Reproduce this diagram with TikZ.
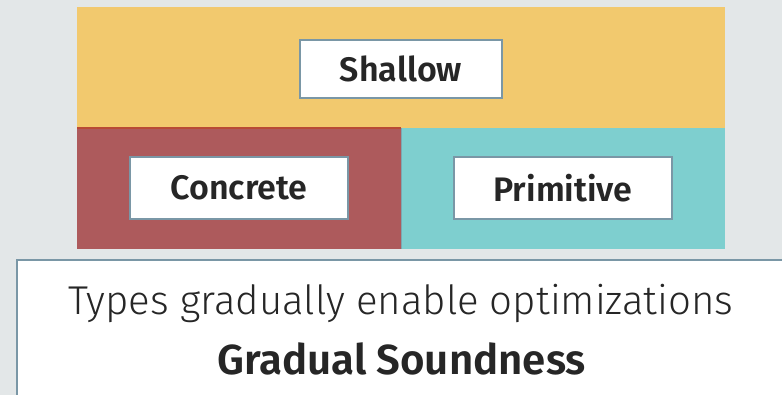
\documentclass[tikz,border=0pt]{standalone}
\usepackage{fontspec}
\setmainfont{Fira Sans}[BoldFont={Fira Sans SemiBold}]
\newfontfamily\lightfont{Fira Sans Light}
\definecolor{bg}{HTML}{E3E7E8}
\definecolor{yel}{HTML}{F2C96E}
\definecolor{redr}{HTML}{AD5A5C}
\definecolor{redline}{HTML}{B84A35}
\definecolor{teal}{HTML}{7ECFCF}
\definecolor{edge}{HTML}{7A97A6}
\definecolor{ink}{HTML}{262626}
\tikzset{
  label box/.style={draw=edge, line width=1.5pt, fill=white, minimum width=202pt, minimum height=58pt, inner sep=0pt, text=ink, font=\bfseries\fontsize{34}{37}\selectfont},
  shadow box/.style={fill=edge!85!black}
}
\begin{document}
\begin{tikzpicture}[x=1pt,y=-1pt]
\useasboundingbox (0,0) rectangle (782,395);
\fill[bg] (0,0) rectangle (782,395);
\fill[yel] (77,7) rectangle (725,128);
\fill[redr] (77,128) rectangle (401,249);
\fill[teal] (401,128) rectangle (725,249);
\draw[redline, line width=1.2pt] (77,128) -- (401,128);
\draw[edge!70!teal, line width=1pt] (401.5,128) -- (401.5,249);
% label boxes
\fill[shadow box] (301,41) rectangle (503,99);
\node[label box, minimum width=202pt, minimum height=58pt] (shallow) at (401,69) {Shallow};
\fill[shadow box] (131,158) rectangle (349,220);
\node[label box, minimum width=218pt, minimum height=62pt] (concrete) at (239,188) {Concrete};
\fill[shadow box] (455,158) rectangle (673,220);
\node[label box, minimum width=218pt, minimum height=62pt] (primitive) at (563,188) {Primitive};
% bottom box
\draw[edge, line width=2pt, fill=white] (17,260) rectangle (800,420);
\node[anchor=base, text=ink, inner sep=0pt, font=\lightfont\fontsize{40.2}{46}\selectfont] (types) at (401,315) {Types gradually enable optimizations};
\node[anchor=base, text=ink, inner sep=0pt, font=\bfseries\fontsize{42}{48}\selectfont] (gs) at (401.5,374) {Gradual Soundness};
\end{tikzpicture}
\end{document}
